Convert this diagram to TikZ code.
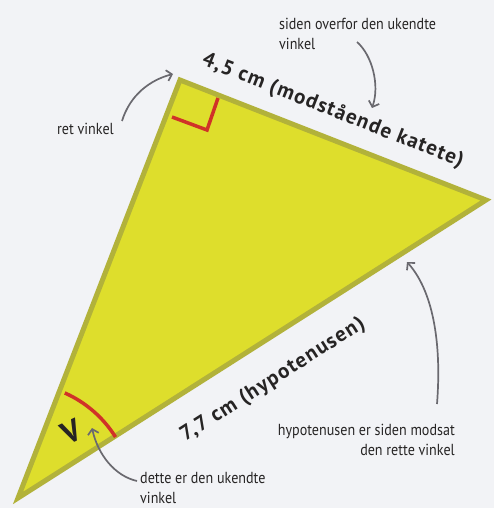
\documentclass[tikz,border=0pt]{standalone}
\usepackage{fontspec}
\setmainfont{PT Sans}
\newfontfamily\notefont[FakeStretch=0.88]{PT Sans}
\newfontfamily\labelfont[LetterSpace=6]{PT Sans}
\usetikzlibrary{arrows.meta}
\definecolor{bgc}{HTML}{F2F3F6}
\definecolor{tri}{HTML}{DEDE2C}
\definecolor{triedge}{HTML}{B2B23A}
\definecolor{redm}{HTML}{D03228}
\definecolor{arrg}{HTML}{6A696F}
\definecolor{txt}{HTML}{262424}
\tikzset{
  note/.style={inner sep=0pt, text=txt, font=\notefont\fontsize{16}{20}\selectfont},
  sidelabel/.style={inner sep=0pt, text=txt, font=\labelfont\fontsize{21}{22}\selectfont\bfseries},
  pointer/.style={draw=arrg, line width=1.7pt, -{Straight Barb[length=5pt,width=11pt,line width=1.7pt]}},
  redmark/.style={draw=redm, line width=3.5pt}
}
\begin{document}
\begin{tikzpicture}[x=1pt,y=-1pt]
\fill[bgc] (0,0) rectangle (494,508);
\useasboundingbox (0,0) rectangle (494,508);
\coordinate (A) at (180,80);
\coordinate (B) at (486,200);
\coordinate (C) at (18,498);
\filldraw[fill=tri, draw=triedge, line width=5pt, line join=miter] (A) -- (B) -- (C) -- cycle;
% right angle marker
\coordinate (m1) at (172,117);
\coordinate (m2) at (207,130);
\coordinate (m3) at (218,98);
\draw[redmark, line join=miter] (m1) -- (m2) -- (m3);
% angle arc
\draw[redmark] (C) ++(-66:115) arc[start angle=-66, end angle=-32, radius=115];
% labels
\node[sidelabel, rotate=-21.5] (kat) at (333,111) {4,5 cm (modstående katete)};
\node[sidelabel, rotate=32.5] (hyp) at (273,380) {7,7 cm (hypotenusen)};
\node[sidelabel, font=\labelfont\fontsize{31}{32}\selectfont\bfseries, rotate=25] (v) at (71,432) {V};
% notes
\node[note, anchor=base west, align=left] (n1) at (279,50) {siden overfor den ukendte\\vinkel};
\node[note, anchor=base west] (n2) at (57,135) {ret vinkel};
\node[note, anchor=base east, align=right] (n3) at (455,455) {hypotenusen er siden modsat\\den rette vinkel};
\node[note, anchor=base west, align=left] (n4) at (140,503) {dette er den ukendte\\vinkel};
% arrows
\coordinate (a1s) at (122,121);
\coordinate (a1e) at (173,74);
\draw[pointer] (a1s) .. controls (130,95) and (150,80) .. (a1e);
\coordinate (a2s) at (357,42);
\coordinate (a2e) at (372,108);
\draw[pointer] (a2s) .. controls (372,55) and (380,85) .. (a2e);
\coordinate (a3s) at (437,404);
\coordinate (a3e) at (407,262);
\draw[pointer] (a3s) .. controls (442,340) and (432,290) .. (a3e);
\coordinate (a4s) at (137,481);
\coordinate (a4e) at (92,428);
\draw[pointer] (a4s) .. controls (115,476) and (98,455) .. (a4e);
\end{tikzpicture}
\end{document}
